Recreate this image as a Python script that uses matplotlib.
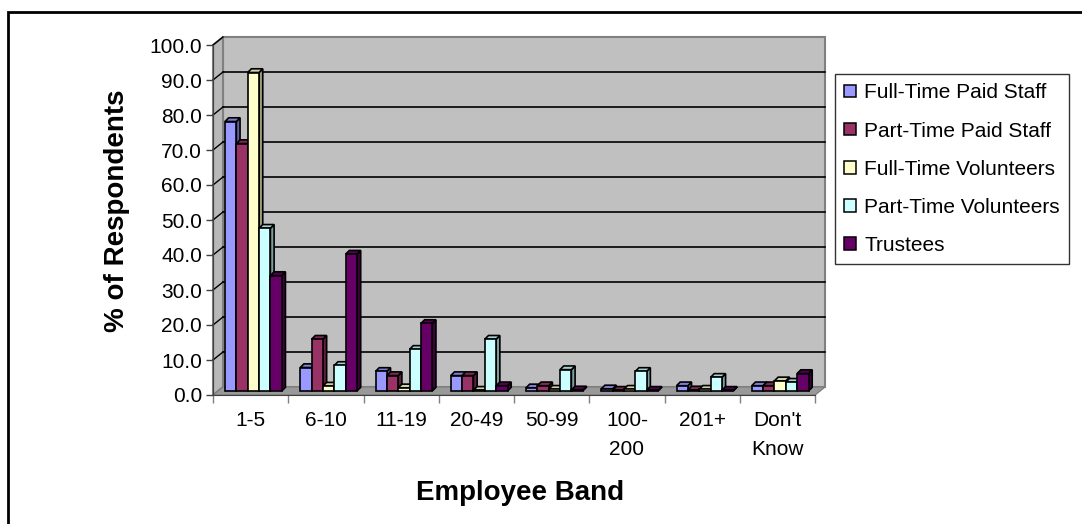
import numpy as np
import matplotlib
matplotlib.use("Agg")
from matplotlib import pyplot as plt
from matplotlib.patches import Polygon, Rectangle, Patch
from matplotlib.colors import to_rgb

# data
bands = ["1-5", "6-10", "11-19", "20-49", "50-99", "100-\n200", "201+", "Don't\nKnow"]
series_names = ["Full-Time Paid Staff", "Part-Time Paid Staff", "Full-Time Volunteers",
                "Part-Time Volunteers", "Trustees"]
ft_paid = [77.0, 6.7, 5.6, 4.4, 0.9, 0.6, 1.5, 1.5]
pt_paid = [70.7, 14.8, 4.4, 4.4, 1.5, 0.2, 0.3, 1.5]
ft_vol = [91.0, 1.4, 0.9, 0.2, 0.5, 0.5, 0.5, 2.9]
pt_vol = [46.5, 7.3, 11.9, 14.8, 6.1, 5.6, 3.9, 2.5]
trustees = [33.0, 39.1, 19.3, 1.5, 0.3, 0.2, 0.2, 5.0]
yticks = np.arange(0, 101, 10)

colors = ["#9999FF", "#993366", "#FFFFCC", "#CCFFFF", "#660066"]
FONT = "Liberation Sans"

# 3d look, in data units (x: categories, y: percent)
CAT_PX, UNIT_PX = 75.25, 3.5
WALL_DX, WALL_DY = 10 / CAT_PX, 8 / UNIT_PX
BAR_DX, BAR_DY = 3.7 / CAT_PX, 3.7 / UNIT_PX
BAR_W = 11.35 / CAT_PX
BAR_START = 12 / CAT_PX


def shade(c, f):
    return tuple(v * f for v in to_rgb(c))


fig = plt.figure(figsize=(10.82, 5.24), dpi=100)
ax = fig.add_axes([213 / 1082, 129 / 524, 602 / 1082, 350 / 524])
ax.set_xlim(0, len(bands))
ax.set_ylim(0, 100)
ax.patch.set_visible(False)
n = len(bands)

# outer frame
fig.patches.append(Rectangle((8 / 1082, -0.1), 1.2, 1 - 12 / 524 + 0.1, transform=fig.transFigure,
                             fill=False, edgecolor="black", linewidth=2))

# walls and floor
ax.add_patch(Polygon([(WALL_DX, WALL_DY), (n + WALL_DX, WALL_DY), (n + WALL_DX, 100 + WALL_DY),
                      (WALL_DX, 100 + WALL_DY)], closed=True, facecolor="#C0C0C0",
                     edgecolor="#808080", lw=1.5, clip_on=False, zorder=0))
ax.add_patch(Polygon([(0, 0), (WALL_DX, WALL_DY), (WALL_DX, 100 + WALL_DY), (0, 100)], closed=True,
                     facecolor="#B8B8B8", edgecolor="#808080", lw=1.5, clip_on=False, zorder=0))
ax.add_patch(Polygon([(0, 0), (n, 0), (n + WALL_DX, WALL_DY), (WALL_DX, WALL_DY)], closed=True,
                     facecolor="#999999", edgecolor="#808080", lw=1.0, clip_on=False, zorder=0.5))

for v in yticks[1:-1]:
    ax.plot([WALL_DX, n + WALL_DX], [v + WALL_DY, v + WALL_DY], color="black", lw=1.2,
            clip_on=False, zorder=0.6)
for v in yticks[1:]:
    ax.plot([0, WALL_DX], [v, v + WALL_DY], color="black", lw=1.0, clip_on=False, zorder=0.6)

# bars
data = [ft_paid, pt_paid, ft_vol, pt_vol, trustees]
base = WALL_DY / 2
for j in range(n):
    for i, vals in enumerate(data):
        v = vals[j]
        x0 = j + BAR_START + i * BAR_W
        x1 = x0 + BAR_W
        top = base + v
        z = 2 + j * 0.1 + i * 0.01
        ax.add_patch(Polygon([(x1, base), (x1 + BAR_DX, base + BAR_DY), (x1 + BAR_DX, top + BAR_DY),
                              (x1, top)], closed=True, facecolor=shade(colors[i], 0.62),
                             edgecolor="black", lw=1.2, clip_on=False, zorder=z))
        ax.add_patch(Polygon([(x0, top), (x1, top), (x1 + BAR_DX, top + BAR_DY),
                              (x0 + BAR_DX, top + BAR_DY)], closed=True,
                             facecolor=shade(colors[i], 0.82), edgecolor="black", lw=1.2,
                             clip_on=False, zorder=z))
        ax.add_patch(Rectangle((x0, base), BAR_W, v, facecolor=colors[i], edgecolor="black",
                               lw=1.2, clip_on=False, zorder=z + 0.005))

# axes
for s in ["top", "right"]:
    ax.spines[s].set_visible(False)
ax.spines["left"].set_color("#404040")
ax.spines["bottom"].set_color("#404040")
ax.spines["left"].set_zorder(1)
ax.set_yticks(yticks)
ax.set_yticklabels([f"{v:.1f}" for v in yticks], fontsize=15, family=FONT)
ax.set_xticks(np.arange(n + 1))
ax.set_xticklabels([])
ax.set_xticks(np.arange(n) + 0.5, minor=True)
ax.set_xticklabels(bands, minor=True, fontsize=15, family=FONT, linespacing=1.7)
ax.tick_params(axis="y", direction="out", length=5, width=1, color="#404040", pad=3)
ax.tick_params(axis="x", which="major", direction="out", length=6, width=1, color="#808080")
ax.tick_params(axis="x", which="minor", length=0, pad=11.5)

fig.text(117 / 1082, 1 - 211 / 524, "% of Respondents", rotation=90, ha="center", va="center",
         fontsize=20, fontweight="bold", family=FONT)
fig.text(520 / 1082, 1 - 493 / 524, "Employee Band", ha="center", va="center",
         fontsize=20, fontweight="bold", family=FONT)

handles = [Patch(facecolor=c, edgecolor="black", lw=1.1) for c in colors]
leg = fig.legend(handles, series_names, loc="upper left",
                 bbox_to_anchor=(835 / 1082, 1 - 74 / 524), borderaxespad=0,
                 prop={"family": FONT, "size": 15}, frameon=True, fancybox=False,
                 handlelength=0.55, handleheight=0.55, handletextpad=0.4, labelspacing=0.92,
                 borderpad=0.45)
leg.get_frame().set_edgecolor("black")
leg.get_frame().set_linewidth(1)

fig.savefig("out.png", dpi=100)
